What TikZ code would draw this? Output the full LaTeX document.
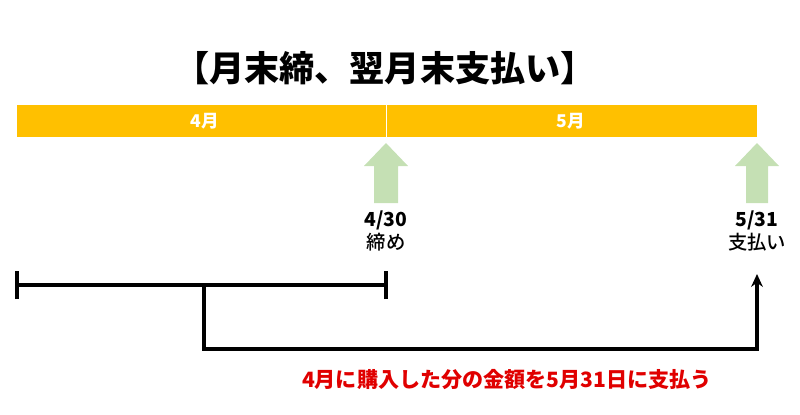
\documentclass[tikz,border=0pt]{standalone}
\usepackage{fontspec}
\setmainfont{Noto Sans CJK JP}
\newfontfamily\jpmedium{Noto Sans CJK JP Medium}
\usepackage{tikz}
\usetikzlibrary{arrows.meta}

\definecolor{barorange}{HTML}{FFC000}
\definecolor{upgreen}{HTML}{C5E0B4}
\definecolor{notered}{HTML}{E00000}

\tikzset{
  monthlabel/.style={text=white, font=\bfseries\fontsize{15}{15}\selectfont},
  datelabel/.style={align=center, font=\jpmedium\fontsize{16.5}{19.5}\selectfont},
  spanline/.style={line width=2.6pt, black},
}

\begin{document}
\begin{tikzpicture}[x=0.03cm, y=-0.03cm]
\useasboundingbox (0,0) rectangle (800,415);

\node[font=\bfseries\fontsize{30}{30}\selectfont] (title) at (385,68) {【月末締、翌月末支払い】};

\fill[barorange] (17,105) rectangle (386,137);
\fill[barorange] (386,105) rectangle (757,137);
\draw[white, line width=0.8pt] (386,105) -- (386,137);
\node[monthlabel] (apr) at (205,121) {4月};
\node[monthlabel] (may) at (571,121) {5月};

\fill[upgreen] (374,203) -- (374,166) -- (364,166) -- (386,143) -- (408,166) -- (398,166) -- (398,203) -- cycle;
\fill[upgreen] (746,203) -- (746,166) -- (735,166) -- (757,143) -- (779,166) -- (768,166) -- (768,203) -- cycle;

\node[datelabel] (close) at (386,231) {\textbf{4/30}\\締め};
\node[datelabel] (pay) at (757,231) {\textbf{5/31}\\支払い};

\coordinate (l) at (17,285);
\coordinate (r) at (386,285);
\coordinate (mid) at (204,285);
\coordinate (end) at (757,274);
\draw[spanline] (l) -- (r);
\draw[spanline] ([yshift=-12]l) -- ([yshift=12]l);
\draw[spanline] ([yshift=-12]r) -- ([yshift=12]r);
\draw[spanline, -{Stealth[length=11pt, width=10pt]}] (mid) |- (757,349) -- (end);

\node[text=notered, font=\bfseries\fontsize{18}{18}\selectfont] (note) at (507,380) {4月に購入した分の金額を5月31日に支払う};
\end{tikzpicture}
\end{document}
